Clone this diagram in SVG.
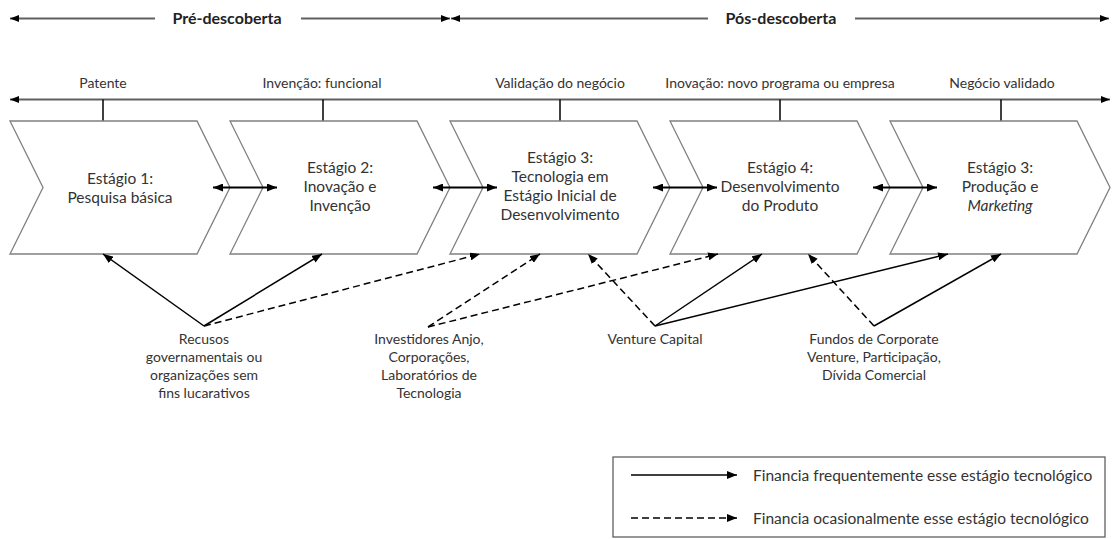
<svg xmlns="http://www.w3.org/2000/svg" width="1112" height="539" viewBox="0 0 1112 539">
<defs>
<marker id="ah" viewBox="0 0 10 8" refX="10" refY="4" markerWidth="10" markerHeight="8" markerUnits="userSpaceOnUse" orient="auto-start-reverse"><path d="M0,0 L10,4 L0,8 z" fill="#000"/></marker>
<marker id="ahs" viewBox="0 0 9 7" refX="9" refY="3.5" markerWidth="9" markerHeight="7" markerUnits="userSpaceOnUse" orient="auto-start-reverse"><path d="M0,0 L9,3.5 L0,7 z" fill="#000"/></marker>
</defs>
<style>
.chev{fill:#fff;stroke:#808080;stroke-width:1.3}
.t{font-family:Lato,"Liberation Sans",sans-serif;font-size:14px;fill:#333;text-anchor:middle}
.c{font-size:15.5px}
.h{font-weight:bold;font-size:16px;fill:#222}
.axis{stroke:#606060;stroke-width:2;fill:none}
.tick{stroke:#000;stroke-width:1.5}
.dbl{stroke:#000;stroke-width:2;marker-start:url(#ah);marker-end:url(#ah)}
.sol{stroke:#000;stroke-width:1.5;fill:none;marker-end:url(#ah)}
.dash{stroke:#000;stroke-width:1.5;fill:none;stroke-dasharray:7 4;marker-end:url(#ah)}
</style>
<rect width="1112" height="539" fill="#fff"/>

<g id="header">
<line class="axis" x1="10" y1="18.5" x2="155" y2="18.5" marker-start="url(#ahs)"/>
<line class="axis" x1="301" y1="18.5" x2="450" y2="18.5" marker-end="url(#ahs)"/>
<line class="axis" x1="451" y1="18.5" x2="708" y2="18.5" marker-start="url(#ahs)"/>
<line class="axis" x1="855" y1="18.5" x2="1109" y2="18.5" marker-end="url(#ahs)"/>
<text class="t h" x="227" y="24">Pré-descoberta</text>
<text class="t h" x="781" y="24">Pós-descoberta</text>
</g>

<g id="timeline">
<line class="axis" x1="10" y1="99.5" x2="1110" y2="99.5" marker-start="url(#ahs)" marker-end="url(#ahs)"/>
<line class="tick" x1="103" y1="99.5" x2="103" y2="121"/>
<line class="tick" x1="323" y1="99.5" x2="323" y2="121"/>
<line class="tick" x1="560" y1="99.5" x2="560" y2="121"/>
<line class="tick" x1="780" y1="99.5" x2="780" y2="121"/>
<line class="tick" x1="1001" y1="99.5" x2="1001" y2="121"/>
<text class="t" x="103" y="88">Patente</text>
<text class="t" x="322" y="88">Invenção: funcional</text>
<text class="t" x="560" y="88">Validação do negócio</text>
<text class="t" x="780" y="88">Inovação: novo programa ou empresa</text>
<text class="t" x="1002" y="88">Negócio validado</text>
</g>

<g id="stage1">
<polygon class="chev" points="10,121 197,121 230,187.5 197,254 10,254 43,187.5"/>
<text class="t c" x="120" y="184">Estágio 1:</text>
<text class="t c" x="120" y="203">Pesquisa básica</text>
</g>
<g id="stage2">
<polygon class="chev" points="230,121 417,121 450,187.5 417,254 230,254 263,187.5"/>
<text class="t c" x="340" y="173">Estágio 2:</text>
<text class="t c" x="340" y="192">Inovação e</text>
<text class="t c" x="340" y="211">Invenção</text>
</g>
<g id="stage3">
<polygon class="chev" points="450,121 637,121 670,187.5 637,254 450,254 483,187.5"/>
<text class="t c" x="560" y="163">Estágio 3:</text>
<text class="t c" x="560" y="182">Tecnologia em</text>
<text class="t c" x="560" y="201">Estágio Inicial de</text>
<text class="t c" x="560" y="220">Desenvolvimento</text>
</g>
<g id="stage4">
<polygon class="chev" points="670,121 857,121 890,187.5 857,254 670,254 703,187.5"/>
<text class="t c" x="780" y="173">Estágio 4:</text>
<text class="t c" x="780" y="192">Desenvolvimento</text>
<text class="t c" x="780" y="211">do Produto</text>
</g>
<g id="stage5">
<polygon class="chev" points="890,121 1077,121 1110,187.5 1077,254 890,254 923,187.5"/>
<text class="t c" x="1000" y="173">Estágio 3:</text>
<text class="t c" x="1000" y="192">Produção e</text>
<text class="t c" x="1000" y="211" font-style="italic">Marketing</text>
</g>

<g id="source-gov">
<text class="t" x="204" y="344">Recusos</text>
<text class="t" x="204" y="362">governamentais ou</text>
<text class="t" x="204" y="380">organizações sem</text>
<text class="t" x="204" y="398">fins lucarativos</text>
</g>
<g id="source-angel">
<text class="t" x="429" y="344">Investidores Anjo,</text>
<text class="t" x="429" y="362">Corporações,</text>
<text class="t" x="429" y="380">Laboratórios de</text>
<text class="t" x="429" y="398">Tecnologia</text>
</g>
<g id="source-vc">
<text class="t" x="655" y="344">Venture Capital</text>
</g>
<g id="source-funds">
<text class="t" x="874" y="344">Fundos de Corporate</text>
<text class="t" x="874" y="362">Venture, Participação,</text>
<text class="t" x="874" y="380">Dívida Comercial</text>
</g>

<g id="connectors">
<line class="dbl" x1="213" y1="187.5" x2="277" y2="187.5"/>
<line class="dbl" x1="433" y1="187.5" x2="497" y2="187.5"/>
<line class="dbl" x1="653" y1="187.5" x2="717" y2="187.5"/>
<line class="dbl" x1="873" y1="187.5" x2="937" y2="187.5"/>
<line class="sol" x1="204" y1="326" x2="103" y2="254"/>
<line class="sol" x1="204" y1="326" x2="322" y2="254"/>
<line class="dash" x1="204" y1="326" x2="480" y2="254"/>
<line class="dash" x1="428" y1="327" x2="540" y2="254"/>
<line class="dash" x1="428" y1="327" x2="718" y2="254"/>
<line class="dash" x1="655" y1="326" x2="588" y2="254"/>
<line class="sol" x1="655" y1="326" x2="762" y2="254"/>
<line class="sol" x1="655" y1="326" x2="948" y2="254"/>
<line class="dash" x1="874" y1="326" x2="808" y2="254"/>
<line class="sol" x1="874" y1="326" x2="1001" y2="254"/>
</g>

<g id="legend">
<rect x="613" y="457" width="492" height="80" fill="#fff" stroke="#606060" stroke-width="1.3"/>
<line class="sol" x1="631" y1="475" x2="737" y2="475"/>
<line class="dash" x1="631" y1="518" x2="737" y2="518"/>
<text class="t c" x="753" y="481" style="text-anchor:start">Financia frequentemente esse estágio tecnológico</text>
<text class="t c" x="753" y="524" style="text-anchor:start">Financia ocasionalmente esse estágio tecnológico</text>
</g>
</svg>
